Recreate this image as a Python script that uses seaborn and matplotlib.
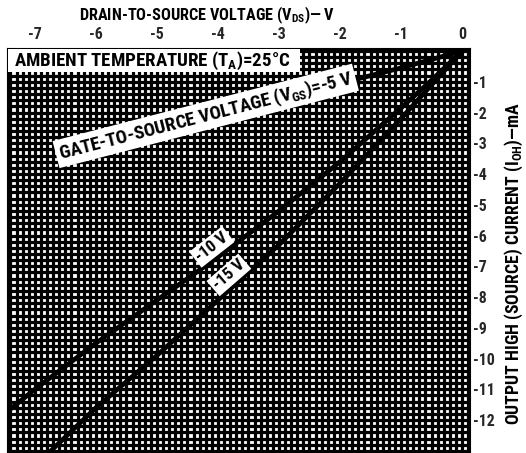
import numpy as np
import pandas as pd
import matplotlib
matplotlib.use("Agg")
import matplotlib.pyplot as plt
import seaborn as sns
from matplotlib import font_manager
from matplotlib.ticker import MultipleLocator
from matplotlib.patches import Rectangle

# ---- data ----
vgs_labels = ["-5 V", "-10 V", "-15 V"]
vds_5 = [0, -1, -2, -3, -4, -5, -6, -6.6]
ioh_5 = [0, -0.55, -1.05, -1.5, -2.0, -2.45, -2.9, -3.2]
vds_10 = [0, -0.5, -1, -2, -3, -4, -5, -6, -7, -7.5]
ioh_10 = [0, -0.95, -1.85, -3.6, -5.2, -6.7, -8.1, -9.5, -11.0, -11.8]
vds_15 = [0, -0.5, -1, -2, -3, -4, -5, -6, -7]
ioh_15 = [0, -1.1, -2.2, -4.3, -6.3, -8.1, -9.9, -11.6, -13.5]

x_ticks = [-7, -6, -5, -4, -3, -2, -1, 0]
x_tick_labels = ["-7", "-6", "-5", "-4", "-3", "-2", "-1", "0"]
y_ticks = [-1, -2, -3, -4, -5, -6, -7, -8, -9, -10, -11, -12]
y_tick_labels = ["-1", "-2", "-3", "-4", "-5", "-6", "-7", "-8", "-9", "-10", "-11", "-12"]

sns.set_theme(style="white")

# choose a narrow font if one is installed
available = {f.name for f in font_manager.fontManager.ttflist}
font = "DejaVu Sans"
scale = 0.78
for cand, sc in [("Liberation Sans Narrow", 1.0), ("Roboto Condensed", 0.95),
                 ("DejaVu Sans Condensed", 0.87)]:
    if cand in available:
        font, scale = cand, sc
        break

plt.rcParams["font.family"] = [font, "DejaVu Sans"]
plt.rcParams["font.weight"] = "bold"
plt.rcParams["axes.unicode_minus"] = False
plt.rcParams["mathtext.fontset"] = "custom"
plt.rcParams["mathtext.rm"] = f"{font}:bold"
plt.rcParams["mathtext.it"] = f"{font}:bold"
plt.rcParams["mathtext.bf"] = f"{font}:bold"

df = pd.concat([
    pd.DataFrame({"vds": vds_5, "ioh": ioh_5, "vgs": vgs_labels[0]}),
    pd.DataFrame({"vds": vds_10, "ioh": ioh_10, "vgs": vgs_labels[1]}),
    pd.DataFrame({"vds": vds_15, "ioh": ioh_15, "vgs": vgs_labels[2]}),
], ignore_index=True)

fig = plt.figure(figsize=(5.26, 4.53), dpi=100)
fig.patch.set_facecolor("white")
ax = fig.add_axes([8 / 526, 0, 462 / 526, 404 / 453])

sns.lineplot(data=df, x="vds", y="ioh", hue="vgs", palette=["black"] * 3,
             estimator=None, sort=False, legend=False, linewidth=3.4, ax=ax, zorder=3)

ax.set_xlim(-7.44, 0.13)
ax.set_ylim(-13.07, 0.065)

ax.set_xticks(x_ticks, x_tick_labels)
ax.set_yticks(y_ticks, y_tick_labels)
ax.xaxis.set_minor_locator(MultipleLocator(0.1))
ax.yaxis.set_minor_locator(MultipleLocator(0.2))
ax.grid(which="both", color="black", linewidth=2.3)
ax.set_axisbelow(True)

ax.tick_params(axis="x", which="both", bottom=False, top=False, labelbottom=False,
               labeltop=True, length=0, pad=5, labelsize=12 * scale)
ax.tick_params(axis="y", which="both", left=False, right=False, labelleft=False,
               labelright=True, length=0, pad=2, labelsize=12 * scale)
for lab in ax.get_xticklabels() + ax.get_yticklabels():
    lab.set_fontweight("bold")

for s in ax.spines.values():
    s.set_color("black")
    s.set_linewidth(1.5)

ax.xaxis.set_label_position("top")
ax.set_xlabel(r"DRAIN-TO-SOURCE VOLTAGE ($\mathrm{V_{DS}}$)— V", fontsize=12.3 * scale,
              fontweight="bold", color="black")
ax.xaxis.set_label_coords(0.43, 1.084)
ax.xaxis.label.set_va("center")

ax.yaxis.set_label_position("right")
ax.set_ylabel(r"OUTPUT HIGH (SOURCE) CURRENT ($\mathrm{I_{OH}}$)—mA", fontsize=13.5 * scale,
              fontweight="bold", color="black")
ax.yaxis.set_label_coords(1.095, 0.468)
ax.yaxis.label.set_va("center")
ax.yaxis.label.set_ha("center")

# temperature box
ax.add_patch(Rectangle((0, 0.943), 0.632, 0.057, transform=ax.transAxes,
                       facecolor="white", edgecolor="none", zorder=4))
ax.text(0.013, 0.971, r"AMBIENT TEMPERATURE ($\mathrm{T_A}$)=25°C", transform=ax.transAxes,
        ha="left", va="center", fontsize=14.3 * scale, fontweight="bold", color="black",
        zorder=5)

box = dict(boxstyle="square,pad=0.15", facecolor="white", edgecolor="none")
ax.text(-4.2, -2.11, r"GATE-TO-SOURCE VOLTAGE ($\mathrm{V_{GS}}$)=-5 V", rotation=14.5,
        rotation_mode="anchor", ha="center", va="center", fontsize=14.3 * scale,
        fontweight="bold", color="black", bbox=box, zorder=5)
ax.text(-4.10, -6.37, vgs_labels[1], rotation=38, rotation_mode="anchor",
        ha="center", va="center", fontsize=12.8 * scale, fontweight="bold", color="black",
        bbox=box, zorder=5)
ax.text(-3.82, -7.28, vgs_labels[2], rotation=41, rotation_mode="anchor",
        ha="center", va="center", fontsize=12.8 * scale, fontweight="bold", color="black",
        bbox=box, zorder=5)

fig.savefig("out.png", dpi=100)
